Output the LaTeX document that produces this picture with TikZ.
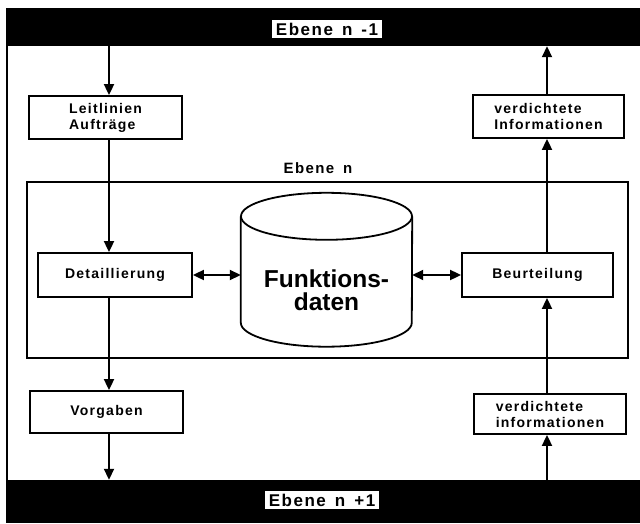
\documentclass[tikz,border=0pt]{standalone}
\usepackage{fontspec}
\setmainfont{Liberation Sans}
\newfontfamily\spacedsans{Liberation Sans}[LetterSpace=9]
\usetikzlibrary{arrows.meta}

\newcommand{\gap}{\hspace{9pt}}

\tikzset{
  rule/.style={line width=1.8pt},
  band/.style={fill=black, draw=none, inner sep=0pt},
  bandlabel/.style={fill=white, inner xsep=4pt, inner ysep=2.5pt, font=\spacedsans\bfseries\fontsize{17}{19}\selectfont},
  stepbox/.style={draw, rule, inner sep=0pt, align=left,
    font=\spacedsans\bfseries\fontsize{14}{16}\selectfont},
  flow/.style={rule, -{Triangle[length=11pt,width=10pt]}},
  both/.style={rule, {Triangle[length=11pt,width=10pt]}-{Triangle[length=11pt,width=10pt]}},
}

\begin{document}
\begin{tikzpicture}[x=1pt,y=-1pt]
\useasboundingbox (0,0) rectangle (640,523);

% black bands for the neighbouring levels
\node[band, minimum width=634pt, minimum height=38pt] (top) at (323,27) {};
\node[band, minimum width=634pt, minimum height=43pt] (bot) at (323,501.5) {};
\node[bandlabel] (toplab) at (327,29) {Ebene\gap n\gap -1};
\node[bandlabel] (botlab) at (322,500) {Ebene\gap n\gap +1};

% left border between the bands
\draw[rule] ([xshift=1pt]top.south west) -- ([xshift=1pt]bot.north west);

% frame of level n
\node[draw, rule, minimum width=601pt, minimum height=176pt, inner sep=0pt] (level) at (327.5,270) {};
\node[font=\spacedsans\bfseries\fontsize{15}{17}\selectfont] (levlab) at (318,168) {Ebene\gap n};

% column positions of the vertical connectors
\coordinate (colL) at (109,0);
\coordinate (colR) at (547,0);

% boxes
\node[stepbox, minimum width=153pt, minimum height=43pt] (leit) at (105.5,117.5) {Leitlinien\\Aufträge};
\node[stepbox, minimum width=154pt, minimum height=44pt] (det) at (115,275) {Detaillierung};
\node[stepbox, minimum width=153pt, minimum height=42pt] (vorg) at (106.5,412) {Vorgaben};
\node[stepbox, minimum width=151pt, minimum height=43pt] (vdup) at (548.5,116.5) {verdichtete\\Informationen};
\node[stepbox, minimum width=151pt, minimum height=44pt] (beur) at (537.5,275) {Beurteilung};
\node[stepbox, minimum width=152pt, minimum height=40pt] (vdlow) at (550,414) {verdichtete\\informationen};

% data store (cylinder)
\node[minimum width=171pt, minimum height=106pt, inner sep=0pt] (db) at (326.5,269.5) {};
\draw[rule] (db.north west) -- (db.south west)
  arc[start angle=180, end angle=360, x radius=85.5pt, y radius=24pt] -- (db.north east);
\draw[rule] (db.north) ellipse[x radius=85.5pt, y radius=23.5pt];
\node[align=center, font=\bfseries\fontsize{24.5}{23}\selectfont] (dbtext) at (326.5,290) {Funktions-\\daten};

% connectors
\draw[flow] (colL |- top.south) -- (colL |- leit.north);
\draw[flow] (colL |- leit.south) -- (colL |- det.north);
\draw[flow] (colL |- det.south) -- (colL |- vorg.north);
\draw[flow] (colL |- vorg.south) -- (colL |- bot.north);
\draw[both] (det.east) -- (det.east -| db.west);
\draw[both] (db.east |- beur.west) -- (beur.west);
\draw[flow] (colR |- beur.north) -- (colR |- vdup.south);
\draw[flow] (colR |- vdup.north) -- (colR |- top.south);
\draw[flow] (colR |- bot.north) -- (colR |- vdlow.south);
\draw[flow] (colR |- vdlow.north) -- (colR |- beur.south);
\end{tikzpicture}
\end{document}
